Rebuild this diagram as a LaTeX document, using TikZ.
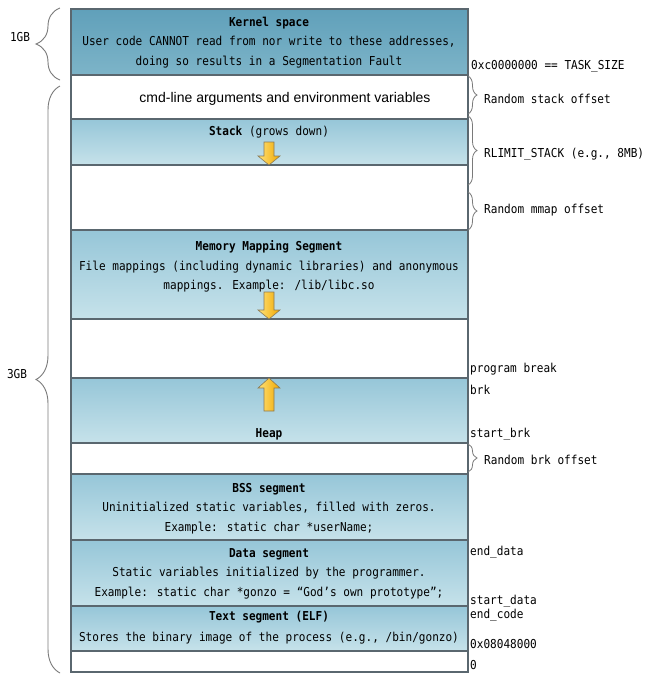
\documentclass[tikz,border=0pt]{standalone}
\usepackage{fontspec}
\setmainfont{DejaVu Sans Mono}[FakeStretch=0.9]
\newfontfamily\arialf{Liberation Sans}
\usetikzlibrary{decorations.pathreplacing}
\definecolor{segedge}{HTML}{5A676F}
\definecolor{kernA}{HTML}{60A0BA}
\definecolor{kernB}{HTML}{7DB4C8}
\definecolor{segA}{HTML}{96C6D8}
\definecolor{segB}{HTML}{C6E2EA}
\definecolor{arrA}{HTML}{FFE27A}
\definecolor{arrB}{HTML}{F0A800}
\definecolor{arrEdge}{HTML}{8A7A55}
\definecolor{braceC}{HTML}{7A7A7A}
\begin{document}
\begin{tikzpicture}[x=1pt,y=-1pt,
  seg/.style={draw=segedge,line width=1.4pt,minimum width=397pt,inner sep=0pt,outer sep=0pt,anchor=north west},
  kernbox/.style={seg,top color=kernA,bottom color=kernB},
  bluebox/.style={seg,top color=segA,bottom color=segB},
  whitebox/.style={seg,fill=white},
  txt/.style={font=\fontsize{12.3}{19.5}\selectfont,align=center,inner sep=0pt,anchor=center},
  lbl/.style={font=\fontsize{12.3}{13}\selectfont,inner sep=0pt,anchor=west},
  lbrace/.style={draw=braceC,line width=0.9pt,decorate,decoration={brace,amplitude=24pt}},
  rbrace/.style={draw=braceC,line width=0.8pt,decorate,decoration={brace,amplitude=9pt}},
  blockarrow/.style={draw=arrEdge,line width=0.6pt,left color=arrA,right color=arrB}
]
\fill[white] (0,0) rectangle (647,678);
\useasboundingbox (0,0) rectangle (647,678);

% segments
\node[kernbox,minimum height=66pt] (kern) at (71,9) {};
\node[whitebox,minimum height=44pt] (cmd) at (71,75) {};
\node[bluebox,minimum height=46pt] (stack) at (71,119) {};
\node[whitebox,minimum height=65pt] (gapa) at (71,165) {};
\node[bluebox,minimum height=89pt] (mmap) at (71,230) {};
\node[whitebox,minimum height=59pt] (gapb) at (71,319) {};
\node[bluebox,minimum height=65pt] (heap) at (71,378) {};
\node[whitebox,minimum height=31pt] (gapc) at (71,443) {};
\node[bluebox,minimum height=66pt] (bss) at (71,474) {};
\node[bluebox,minimum height=66pt] (data) at (71,540) {};
\node[bluebox,minimum height=45pt] (text) at (71,606) {};
\node[whitebox,minimum height=21pt] (zero) at (71,651) {};

% texts
\node[txt] (kernt) at (269,42.5) {\textbf{Kernel space}\\User code CANNOT read from nor write to these addresses,\\doing so results in a Segmentation Fault};
\node[txt,font=\arialf\fontsize{14}{15}\selectfont] (cmdt) at (285,98.5) {cmd-line arguments and environment variables};
\node[txt] (stackt) at (269,132) {\textbf{Stack} (grows down)};
\node[txt] (mmapt) at (269,266.5) {\textbf{Memory Mapping Segment}\\File mappings (including dynamic libraries) and anonymous\\mappings. Example: /lib/libc.so};
\node[txt] (heapt) at (269,434) {\textbf{Heap}};
\node[txt] (bsst) at (269,508.5) {\textbf{BSS segment}\\Uninitialized static variables, filled with zeros.\\Example: static char *userName;};
\node[txt] (datat) at (269,573.5) {\textbf{Data segment}\\Static variables initialized by the programmer.\\Example: static char *gonzo = “God’s own prototype”;};
\node[txt,font=\fontsize{12.3}{21}\selectfont] (textt) at (269,627.5) {\textbf{Text segment (ELF)}\\Stores the binary image of the process (e.g., /bin/gonzo)};

% block arrows
\draw[blockarrow] (264,142) -- (274,142) -- (274,156) -- (280,156) -- (269,165) -- (258,156) -- (264,156) -- cycle;
\draw[blockarrow] (264,292) -- (274,292) -- (274,310) -- (280,310) -- (269,319) -- (258,310) -- (264,310) -- cycle;
\draw[blockarrow] (264,411) -- (274,411) -- (274,388) -- (280,388) -- (269,378) -- (258,388) -- (264,388) -- cycle;

% left braces
\coordinate (g1a) at (60,80);
\coordinate (g1b) at (60,8);
\coordinate (g3a) at (60,673);
\coordinate (g3b) at (60,86);
\draw[lbrace] (g1a) -- (g1b);
\draw[lbrace] (g3a) -- (g3b);
\node[lbl,anchor=center] (gb1) at (20,37) {1GB};
\node[lbl,anchor=center] (gb3) at (17,374) {3GB};

% right braces
\coordinate (rs1) at (468,76);
\coordinate (rs2) at (468,114);
\coordinate (rl1) at (468,116);
\coordinate (rl2) at (468,185);
\coordinate (rm1) at (468,192);
\coordinate (rm2) at (468,230);
\coordinate (rb1) at (468,444);
\coordinate (rb2) at (468,472);
\draw[rbrace] (rs1) -- (rs2);
\draw[rbrace] (rl1) -- (rl2);
\draw[rbrace] (rm1) -- (rm2);
\draw[rbrace] (rb1) -- (rb2);

% right labels
\node[lbl] (task) at (471,66.5) {0xc0000000 == TASK\_SIZE};
\node[lbl] (rso) at (484,98.5) {Random stack offset};
\node[lbl] (rlim) at (484,154.5) {RLIMIT\_STACK (e.g., 8MB)};
\node[lbl] (rmo) at (484,210.5) {Random mmap offset};
\node[lbl] (pbrk) at (470,369.5) {program break};
\node[lbl] (brk) at (470,389.5) {brk};
\node[lbl] (sbrk) at (470,434.5) {start\_brk};
\node[lbl] (rbo) at (484,459.5) {Random brk offset};
\node[lbl] (edata) at (470,552.5) {end\_data};
\node[lbl] (sdata) at (470,601.5) {start\_data};
\node[lbl] (ecode) at (470,615.5) {end\_code};
\node[lbl] (addr) at (470,644.5) {0x08048000};
\node[lbl] (zerol) at (470,665.5) {0};
\end{tikzpicture}
\end{document}
